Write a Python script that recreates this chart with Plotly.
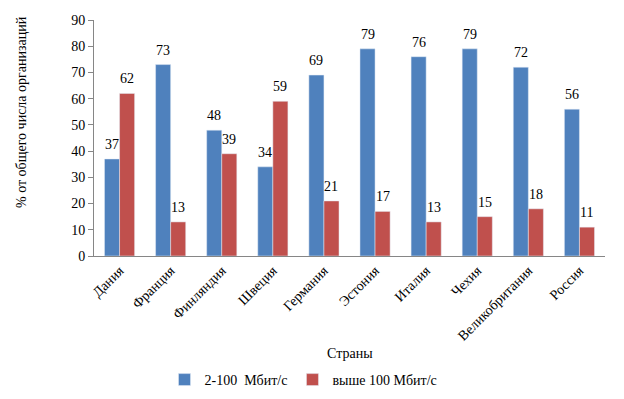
import plotly.graph_objects as go

countries = ["Дания", "Франция", "Финляндия", "Швеция", "Германия", "Эстония",
             "Италия", "Чехия", "Великобритания", "Россия"]
low_speed = [37, 73, 48, 34, 69, 79, 76, 79, 72, 56]
high_speed = [62, 13, 39, 59, 21, 17, 13, 15, 18, 11]
series_names = ["2-100  Мбит/с", "выше 100 Мбит/с"]

FONT = "Liberation Serif"
FS = 14
W, H = 624, 399
L, R, T, B = 94, 19, 20, 143
BARGAP = 0.41
pw = W - L - R
ph = H - T - B
bar_px = pw / len(countries) * (1 - BARGAP) / 2

fig = go.Figure()
fig.add_trace(go.Bar(x=countries, y=low_speed, name=series_names[0],
                     marker_color="#4F81BD"))
fig.add_trace(go.Bar(x=countries, y=high_speed, name=series_names[1],
                     marker_color="#C0504D"))

annotations = []
for series, sign in ((low_speed, -1), (high_speed, 1)):
    for c, v in zip(countries, series):
        annotations.append(dict(x=c, y=v, text=str(v), showarrow=False,
                                xanchor="center", yanchor="bottom",
                                xshift=sign * bar_px / 2, yshift=5,
                                font=dict(family=FONT, size=FS, color="#000000")))

annotations += [
    dict(text="Страны", xref="paper", yref="paper", x=0.5,
         y=(T + ph - 353) / ph, showarrow=False, xanchor="center",
         yanchor="middle", font=dict(family=FONT, size=FS)),
    dict(text="% от общего числа организаций", xref="paper", yref="paper",
         x=(22 - L) / pw, y=(T + ph - 112) / ph, textangle=-90,
         showarrow=False, xanchor="center", yanchor="middle",
         font=dict(family=FONT, size=FS)),
]

fig.update_layout(
    width=W, height=H,
    margin=dict(l=L, r=R, t=T, b=B, autoexpand=False),
    paper_bgcolor="white", plot_bgcolor="white",
    font=dict(family=FONT, size=FS, color="#000000"),
    barmode="group", bargap=BARGAP, bargroupgap=0,
    showlegend=True,
    legend=dict(orientation="h", x=0.41, xanchor="center",
                yref="container", y=(H - 380) / H,
                yanchor="middle", font=dict(family=FONT, size=FS), itemwidth=30,
                traceorder="normal"),
    xaxis=dict(showline=True, linecolor="#868686", linewidth=1, ticks="",
               tickangle=-45, tickfont=dict(family=FONT, size=FS),
               showgrid=False, automargin=False),
    yaxis=dict(range=[0, 90], dtick=10, showline=True, linecolor="#868686",
               linewidth=1, ticks="outside", ticklen=5, tickcolor="#868686",
               showgrid=False, zeroline=False, automargin=False,
               tickfont=dict(family=FONT, size=FS)),
    annotations=annotations,
)

fig.write_html("out.html", config={"displayModeBar": False},
               post_script="document.body.style.margin='0';document.body.style.overflow='hidden';")
